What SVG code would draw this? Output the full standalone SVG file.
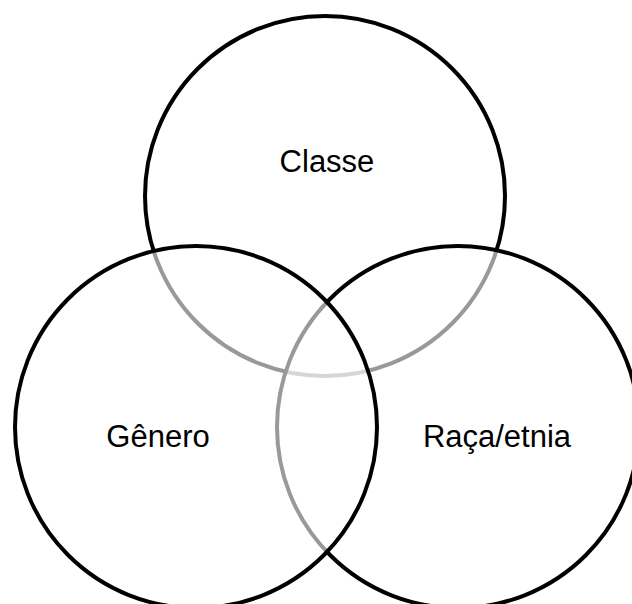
<svg xmlns="http://www.w3.org/2000/svg" width="632" height="604" viewBox="0 0 632 604">
<style>
.ring{stroke:#000;stroke-width:4}
.top{fill:none}
.over{fill:#fff;fill-opacity:0.6}
.lbl{font-family:"Liberation Sans",Arial,sans-serif;font-size:31px;fill:#000;text-anchor:middle}
</style>
<rect width="632" height="604" fill="#fff"/>
<g id="classe">
<circle class="ring top" cx="325" cy="196" r="180"/>
</g>
<g id="raca-etnia">
<circle class="ring over" cx="458" cy="427" r="181"/>
</g>
<g id="genero">
<circle class="ring over" cx="196" cy="427" r="181"/>
</g>
<g id="labels">
<text class="lbl" x="327" y="172">Classe</text>
<text class="lbl" x="158" y="447">Gênero</text>
<text class="lbl" x="497" y="447">Raça/etnia</text>
</g>
<g id="connectors"/>
</svg>
